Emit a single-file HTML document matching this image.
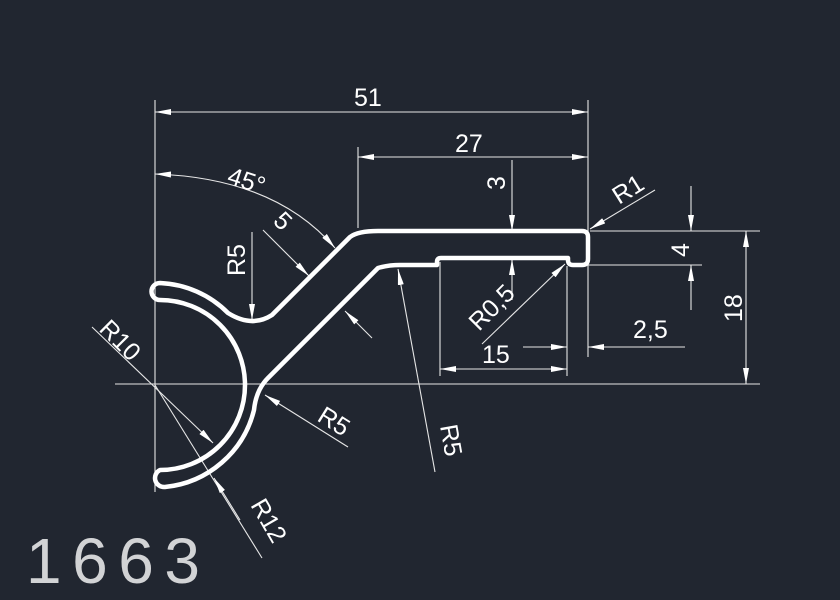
<!DOCTYPE html>
<html><head><meta charset="utf-8"><style>
html,body{margin:0;padding:0;background:#212630;}
svg{display:block}
text{font-family:"Liberation Sans",sans-serif;fill:#fff;font-size:25px;}
</style></head><body>
<svg width="840" height="600" viewBox="0 0 840 600" xmlns="http://www.w3.org/2000/svg">
<defs>
<marker id="a" viewBox="0 0 16 6" refX="16" refY="3" markerWidth="16" markerHeight="6" markerUnits="userSpaceOnUse" orient="auto-start-reverse">
<path d="M0,0 L16,3 L0,6 Z" fill="#fff"/></marker>
</defs>
<rect width="840" height="600" fill="#212630"/>
<g stroke="#e6e6e6" stroke-width="1.1" fill="none">
<line x1="155" y1="100" x2="155" y2="492"/>
<line x1="115" y1="384" x2="760" y2="384"/>
<line x1="588" y1="100" x2="588" y2="357"/>
<line x1="358" y1="147" x2="358" y2="228"/>
<line x1="590" y1="231" x2="760" y2="231"/>
<line x1="585" y1="265" x2="702" y2="265"/>
<line x1="440" y1="262" x2="440" y2="376"/>
<line x1="567" y1="266" x2="567" y2="376"/>
<line x1="155" y1="112" x2="588" y2="112" marker-start="url(#a)" marker-end="url(#a)"/>
<line x1="358" y1="157" x2="588" y2="157" marker-start="url(#a)" marker-end="url(#a)"/>
<line x1="512" y1="160" x2="512" y2="231" marker-end="url(#a)"/>
<line x1="512" y1="300" x2="512" y2="259" marker-end="url(#a)"/>
<line x1="655" y1="190" x2="590" y2="229" marker-end="url(#a)"/>
<line x1="691" y1="186" x2="691" y2="231" marker-end="url(#a)"/>
<line x1="691" y1="310" x2="691" y2="265" marker-end="url(#a)"/>
<line x1="746" y1="231" x2="746" y2="384" marker-start="url(#a)" marker-end="url(#a)"/>
<line x1="440" y1="369" x2="567" y2="369" marker-start="url(#a)" marker-end="url(#a)"/>
<line x1="523" y1="347" x2="567" y2="347" marker-end="url(#a)"/>
<line x1="685" y1="347" x2="588" y2="347" marker-end="url(#a)"/>
<line x1="482" y1="344" x2="565" y2="264" marker-end="url(#a)"/>
<path d="M155,174 Q275,178 335,248" marker-start="url(#a)" marker-end="url(#a)"/>
<line x1="263" y1="230" x2="309" y2="276" marker-end="url(#a)"/>
<line x1="372" y1="338" x2="345" y2="311" marker-end="url(#a)"/>
<line x1="252" y1="232" x2="252" y2="320" marker-end="url(#a)"/>
<line x1="92" y1="327" x2="213" y2="443" marker-end="url(#a)"/>
<line x1="155" y1="385" x2="262" y2="558"/>
<line x1="240" y1="520" x2="214" y2="478" marker-end="url(#a)"/>
<line x1="348" y1="447" x2="265" y2="395" marker-end="url(#a)"/>
<line x1="435" y1="472" x2="398" y2="269" marker-end="url(#a)"/>
</g>
<path d="M160,283 A102,102 0 0 1 228,313 Q252,328 272,315 L350,237 Q358,231 378,231 L582,231 Q588,231 588,237 L588,259 Q588,265 582,265 L573,265 Q568,265 568,260 L568,258 L441,258 Q437,258 437,262 L437,265 L400,265 Q388,265 378,268 L268,378 Q256,390 254,410 A102,102 0 0 1 165,487 A9,9 0 0 1 160,470 A85,85 0 0 0 160,300 A8.5,8.5 0 0 1 160,283 Z" fill="none" stroke="#fff" stroke-width="4.5" stroke-linejoin="round"/>
<text x="354" y="106">51</text>
<text x="455" y="152">27</text>
<text transform="translate(505,190) rotate(-90)">3</text>
<text transform="translate(619,205) rotate(-32)">R1</text>
<text transform="translate(689,257) rotate(-90)">4</text>
<text transform="translate(742,322) rotate(-90)">18</text>
<text x="482" y="363">15</text>
<text x="633" y="338">2,5</text>
<text transform="translate(479,332) rotate(-45)">R0,5</text>
<text transform="translate(226,183) rotate(18)">45°</text>
<text transform="translate(272,222) rotate(45)">5</text>
<text transform="translate(245,276) rotate(-90)">R5</text>
<text transform="translate(98,330) rotate(45)">R10</text>
<text transform="translate(316,420) rotate(32)">R5</text>
<text transform="translate(440,426) rotate(80)">R5</text>
<text transform="translate(250,505) rotate(60)">R12</text>
<text x="26" y="583" textLength="174" lengthAdjust="spacing" style="font-size:64px" fill-opacity="0.8">1663</text>
</svg>
</body></html>
